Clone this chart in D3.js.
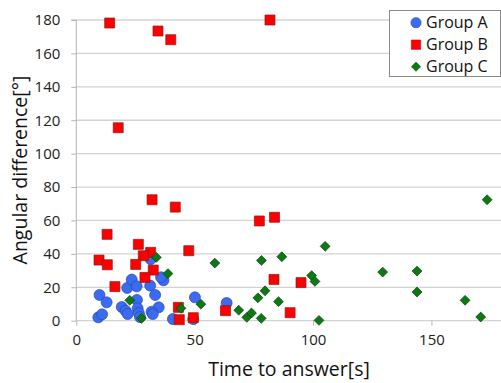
<!DOCTYPE html>
<html>
<head>
<meta charset="utf-8">
<script src="https://cdn.jsdelivr.net/npm/d3@7"></script>
<style>
  body { margin: 0; background: #fff; }
  svg { display: block; font-family: "Open Sans", sans-serif; }
</style>
</head>
<body>
<div id="chart"></div>
<script>
// values: [time to answer (s), angular difference (deg)]
const groupA = [
  [9.3, 2.0], [10.9, 3.8], [9.8, 15.4], [12.8, 11.0], [19.2, 8.2], [20.8, 6.0],
  [21.7, 4.0], [21.5, 19.6], [23.4, 24.6], [25.5, 20.6], [25.6, 12.4], [25.9, 7.4],
  [26.4, 4.6], [26.9, 2.2], [31.2, 21.0], [33.3, 15.4], [34.8, 8.0], [31.8, 5.4],
  [32.3, 4.0], [36.8, 24.2], [35.8, 26.0], [31.4, 36.8], [40.8, 1.0], [49.4, 1.0],
  [50.1, 14.0], [63.5, 10.6]
]
const groupB = [
  [14.1, 178.2], [34.5, 173.4], [39.9, 168.2], [81.8, 180.0], [17.7, 115.5],
  [32.0, 72.4], [41.8, 68.0], [77.3, 59.7], [83.7, 61.9], [13.0, 51.7],
  [26.2, 45.7], [31.4, 40.9], [28.3, 38.9], [47.5, 41.9], [9.6, 36.3],
  [13.1, 33.5], [25.1, 33.7], [32.5, 30.3], [29.0, 25.9], [16.3, 20.4],
  [83.5, 24.7], [94.9, 22.8], [43.1, 8.0], [43.5, 0.6], [49.4, 1.8],
  [63.0, 6.0], [90.3, 4.8]
]
const groupC = [
  [22.6, 12.2], [27.5, 1.4], [33.8, 37.9], [38.7, 28.2], [44.2, 7.4], [52.6, 9.9],
  [58.5, 34.5], [68.6, 6.3], [72.0, 2.0], [74.0, 4.6], [76.7, 13.7], [78.2, 36.1],
  [78.1, 1.4], [79.7, 17.9], [85.4, 11.4], [86.8, 38.3], [99.4, 27.0], [100.8, 23.5],
  [102.5, 0.2], [105.1, 44.5], [129.4, 29.1], [143.9, 29.7], [143.9, 17.2],
  [164.2, 12.2], [170.8, 2.2], [173.5, 72.4]
]
const xTicks = [0, 50, 100, 150]
const yTicks = [0, 20, 40, 60, 80, 100, 120, 140, 160, 180]
const seriesNames = ['Group A', 'Group B', 'Group C']

const width = 501
const height = 383

const x = d3.scaleLinear().domain([0, 180]).range([76.3, 502.5])
const y = d3.scaleLinear().domain([0, 180]).range([320.7, 20])

const svg = d3.select('#chart').append('svg')
    .attr('width', width)
    .attr('height', height)

//grid lines
svg.append('g')
    .selectAll('line')
    .data(yTicks)
    .join('line')
    .attr('x1', x(0))
    .attr('x2', width)
    .attr('y1', d => y(d))
    .attr('y2', d => y(d))
    .attr('stroke', '#d3d3d3')
    .attr('stroke-width', 1.3)

//y axis
svg.append('g')
    .attr('transform', `translate(${x(0)},0)`)
    .call(d3.axisLeft(y).tickValues(yTicks).tickSize(5).tickPadding(11))
    .call(g => g.select('.domain').attr('stroke', '#b5b5b5').attr('d', `M-5,${y(180)}H0V${y(0)}`))
    .call(g => g.selectAll('.tick line').attr('stroke', '#b5b5b5'))
    .call(g => g.selectAll('.tick text')
        .attr('font-family', '"Open Sans", sans-serif')
        .attr('font-size', 15)
        .attr('fill', '#222'))

//x axis
svg.append('g')
    .attr('transform', `translate(0,${y(0)})`)
    .call(d3.axisBottom(x).tickValues(xTicks).tickSize(5).tickPadding(9))
    .call(g => g.select('.domain').remove())
    .call(g => g.selectAll('.tick line').attr('stroke', '#b5b5b5'))
    .call(g => g.selectAll('.tick text')
        .attr('font-family', '"Open Sans", sans-serif')
        .attr('font-size', 15)
        .attr('fill', '#222'))

//axis titles
svg.append('text')
    .attr('x', 289)
    .attr('y', 376)
    .attr('text-anchor', 'middle')
    .attr('font-size', 19.5)
    .attr('fill', '#111')
    .text('Time to answer[s]')

svg.append('text')
    .attr('transform', `translate(27,170) rotate(-90)`)
    .attr('text-anchor', 'middle')
    .attr('font-size', 19.5)
    .attr('fill', '#111')
    .text('Angular difference[°]')

const circle = d3.symbol().type(d3.symbolCircle).size(95)
const square = d3.symbol().type(d3.symbolSquare).size(100)
const diamond = d3.symbol().type(d3.symbolDiamond2).size(62)

const styles = [
    {data: groupA, path: circle, fill: '#3a6bf0', stroke: '#2a4aa8'},
    {data: groupB, path: square, fill: '#ff0000', stroke: '#8a1a1a'},
    {data: groupC, path: diamond, fill: '#0b7a12', stroke: '#0a3f0c'}
]

//points, drawn in series order
styles.forEach(s => {
    svg.append('g')
        .selectAll('path')
        .data(s.data)
        .join('path')
        .attr('d', s.path)
        .attr('transform', d => `translate(${x(d[0])},${y(d[1])})`)
        .attr('fill', s.fill)
        .attr('stroke', s.stroke)
        .attr('stroke-width', 0.7)
})

//legend
const legend = svg.append('g')
legend.append('rect')
    .attr('x', 389.5)
    .attr('y', 10.5)
    .attr('width', 111)
    .attr('height', 66)
    .attr('fill', '#fff')
    .attr('stroke', '#8a8a8a')

const items = legend.selectAll('g')
    .data(seriesNames)
    .join('g')
    .attr('transform', (_, i) => `translate(416,${22.7 + i * 22})`)

items.append('path')
    .attr('d', (_, i) => i === 0 ? d3.symbol().type(d3.symbolCircle).size(85)()
        : i === 1 ? d3.symbol().type(d3.symbolSquare).size(90)()
        : d3.symbol().type(d3.symbolDiamond2).size(55)())
    .attr('fill', (_, i) => styles[i].fill)
    .attr('stroke', (_, i) => styles[i].stroke)
    .attr('stroke-width', 0.5)

items.append('text')
    .attr('x', 10)
    .attr('dy', '0.35em')
    .attr('font-size', 16)
    .attr('fill', '#111')
    .text(d => d)
</script>
</body>
</html>
